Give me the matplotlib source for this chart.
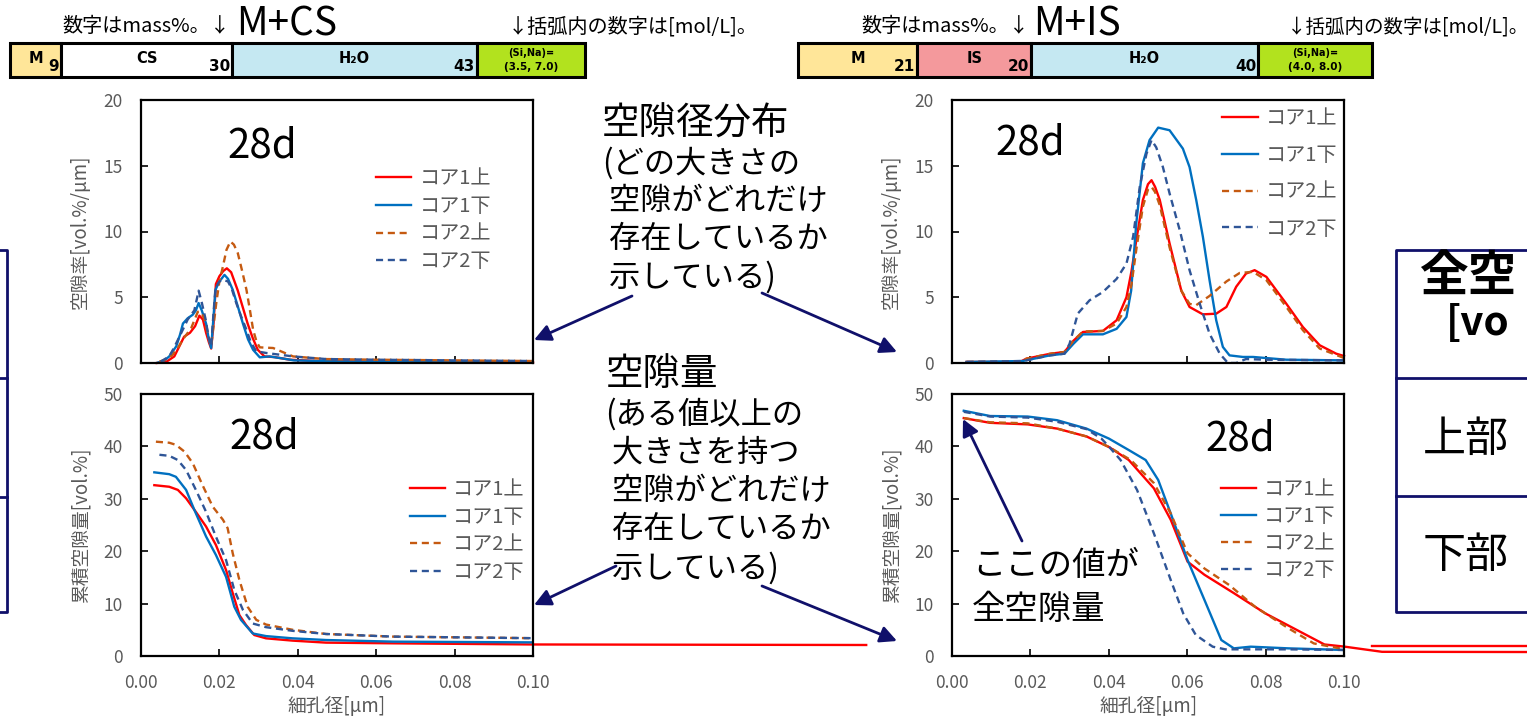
import numpy as np
import matplotlib.pyplot as plt

plt.rcParams['font.family'] = ['Noto Sans CJK JP', 'DejaVu Sans']

W, H = 1527, 720

# ---- series labels / styles ----
labels = ['コア1上', 'コア1下', 'コア2上', 'コア2下']
colors = ['#FF0000', '#0070C0', '#C55A11', '#2F5597']
styles = ['-', '-', (0, (3, 2)), (0, (3, 2))]

# ---- M+CS : pore size distribution [vol.%/um] ----
cs_psd_1u_x = [0.004, 0.0065, 0.0085, 0.0100, 0.0110, 0.0125, 0.0138, 0.0149, 0.0158, 0.0166, 0.0173, 0.0179,
               0.0185, 0.0191, 0.0200, 0.0210, 0.0219, 0.0230, 0.0247, 0.0260, 0.0272, 0.0285, 0.0298, 0.0315,
               0.0340, 0.0380, 0.0450, 0.0600, 0.0800, 0.1000]
cs_psd_1u_y = [0.0, 0.1, 0.5, 1.4, 2.0, 2.3, 2.8, 3.6, 3.3, 2.3, 1.6, 1.1, 3.0, 6.0, 6.6, 7.0, 7.2, 6.9, 5.5, 4.2,
               3.0, 1.9, 1.0, 0.5, 0.45, 0.25, 0.15, 0.1, 0.08, 0.05]
cs_psd_1d_x = [0.004, 0.006, 0.0072, 0.009, 0.0100, 0.0107, 0.0119, 0.0132, 0.0140, 0.0147, 0.0155, 0.0166, 0.0173,
               0.0179, 0.0185, 0.0190, 0.0200, 0.0213, 0.0222, 0.0234, 0.0247, 0.0260, 0.0273, 0.0286, 0.0303,
               0.0328, 0.0360, 0.0390, 0.0500, 0.0700, 0.1000]
cs_psd_1d_y = [0.0, 0.2, 0.5, 1.27, 2.2, 3.0, 3.4, 3.67, 4.0, 4.56, 4.0, 3.0, 1.8, 1.14, 3.5, 5.57, 6.2, 6.7, 6.4,
               5.57, 4.3, 3.0, 1.8, 1.0, 0.43, 0.5, 0.35, 0.2, 0.12, 0.08, 0.05]
cs_psd_2u_x = [0.0047, 0.0065, 0.0080, 0.0095, 0.0107, 0.0128, 0.0145, 0.0155, 0.0162, 0.0172, 0.0179, 0.0185,
               0.0192, 0.0200, 0.0209, 0.0218, 0.0228, 0.0237, 0.0247, 0.0258, 0.0269, 0.0278, 0.0286, 0.0295,
               0.0303, 0.0337, 0.0388, 0.0470, 0.0600, 0.0800, 0.1000]
cs_psd_2u_y = [0.1, 0.3, 0.6, 1.2, 1.8, 2.65, 3.9, 3.8, 3.3, 2.0, 1.27, 2.8, 4.56, 6.2, 7.34, 8.6, 9.24, 9.0, 8.35,
               7.0, 5.57, 4.0, 2.53, 1.6, 1.19, 1.14, 0.5, 0.3, 0.25, 0.2, 0.15]
cs_psd_2d_x = [0.005, 0.0072, 0.0085, 0.0098, 0.0119, 0.0136, 0.0142, 0.0147, 0.0155, 0.0165, 0.0172, 0.0179,
               0.0185, 0.0190, 0.0200, 0.0209, 0.0222, 0.0232, 0.0243, 0.0256, 0.0269, 0.0280, 0.0294, 0.0320,
               0.0388, 0.0472, 0.0600, 0.0800, 0.1000]
cs_psd_2d_y = [0.1, 0.5, 1.2, 2.0, 3.3, 4.0, 4.8, 5.5, 4.6, 3.3, 2.0, 1.27, 3.8, 5.7, 6.2, 6.33, 6.2, 5.6, 4.56,
               3.5, 2.53, 1.6, 0.89, 0.76, 0.5, 0.3, 0.25, 0.2, 0.15]

# ---- M+IS : pore size distribution ----
is_psd_1u_x = [0.0037, 0.0088, 0.0173, 0.0190, 0.0250, 0.0287, 0.0310, 0.0334, 0.0360, 0.0385, 0.0420, 0.0445,
               0.0458, 0.0470, 0.0487, 0.0500, 0.0509, 0.0518, 0.0530, 0.0555, 0.0585, 0.0606, 0.0640, 0.0674,
               0.0700, 0.0725, 0.0750, 0.0772, 0.0802, 0.0853, 0.0895, 0.0938, 0.0980, 0.1000]
is_psd_1u_y = [0.08, 0.08, 0.08, 0.33, 0.7, 0.84, 1.7, 2.36, 2.4, 2.44, 3.25, 5.0, 7.0, 9.3, 12.4, 13.6, 13.9,
               13.4, 12.4, 9.1, 5.5, 4.26, 3.7, 3.75, 4.26, 5.8, 6.8, 7.06, 6.55, 4.5, 2.74, 1.35, 0.71, 0.53]
is_psd_1d_x = [0.0037, 0.0180, 0.0250, 0.0287, 0.0310, 0.0334, 0.0385, 0.0420, 0.0445, 0.0457, 0.0470, 0.0487,
               0.0504, 0.0526, 0.0555, 0.0589, 0.0606, 0.0623, 0.0640, 0.0657, 0.0674, 0.0691, 0.0708, 0.0742,
               0.0768, 0.0853, 0.1000]
is_psd_1d_y = [0.08, 0.15, 0.58, 0.71, 1.47, 2.18, 2.18, 2.6, 3.5, 5.5, 10.6, 15.2, 16.95, 17.9, 17.7, 16.3,
               14.9, 12.4, 9.6, 6.3, 3.25, 1.22, 0.58, 0.46, 0.46, 0.25, 0.2]
is_psd_2u_x = [0.0037, 0.0088, 0.0173, 0.0190, 0.0250, 0.0287, 0.0310, 0.0334, 0.0385, 0.0420, 0.0445, 0.0458,
               0.0470, 0.0487, 0.0500, 0.0509, 0.0518, 0.0530, 0.0555, 0.0585, 0.0606, 0.0623, 0.0657, 0.0700,
               0.0734, 0.0768, 0.0802, 0.0853, 0.0895, 0.0938, 0.1000]
is_psd_2u_y = [0.08, 0.08, 0.08, 0.33, 0.7, 0.84, 1.7, 2.4, 2.44, 3.0, 4.26, 6.0, 8.6, 11.9, 13.2, 13.4, 13.0,
               12.0, 8.8, 5.5, 4.5, 4.4, 5.1, 6.2, 6.85, 6.93, 6.3, 4.26, 2.5, 1.1, 0.38]
is_psd_2d_x = [0.0037, 0.0180, 0.0250, 0.0287, 0.0300, 0.0321, 0.0351, 0.0385, 0.0420, 0.0445, 0.0462, 0.0479,
               0.0496, 0.0509, 0.0521, 0.0538, 0.0555, 0.0581, 0.0606, 0.0632, 0.0657, 0.0683, 0.0704, 0.0725,
               0.0750, 0.0800, 0.1000]
is_psd_2d_y = [0.08, 0.15, 0.58, 0.71, 1.47, 3.76, 4.77, 5.4, 6.4, 7.56, 9.6, 13.4, 15.9, 16.95, 16.4, 14.9,
               12.9, 10.1, 7.06, 4.5, 2.23, 0.71, 0.0, 0.0, 0.3, 0.25, 0.2]

# ---- M+CS : cumulative pore volume [vol.%] ----
cs_cum_1u_x = [0.0034, 0.0072, 0.0094, 0.0115, 0.0140, 0.0166, 0.0191, 0.0217, 0.0234, 0.0251, 0.0268, 0.0289,
               0.0319, 0.0387, 0.0472, 0.0643, 0.1000, 0.1850]
cs_cum_1u_y = [32.6, 32.3, 31.7, 30.1, 27.5, 24.7, 21.2, 16.4, 12.0, 7.8, 5.9, 4.0, 3.37, 2.93, 2.55, 2.42, 2.2, 2.1]
cs_cum_1d_x = [0.0034, 0.0072, 0.0089, 0.0115, 0.0136, 0.0166, 0.0191, 0.0217, 0.0238, 0.0255, 0.0285, 0.0319,
               0.0387, 0.0472, 0.0643, 0.1000]
cs_cum_1d_y = [35.05, 34.7, 34.2, 31.7, 27.9, 22.8, 19.3, 15.1, 9.4, 6.9, 4.3, 3.8, 3.37, 3.05, 2.74, 2.6]
cs_cum_2u_x = [0.0038, 0.0072, 0.0089, 0.0111, 0.0132, 0.0157, 0.0183, 0.0209, 0.0221, 0.0234, 0.0251, 0.0272,
               0.0294, 0.0319, 0.0387, 0.0472, 0.0643, 0.1000]
cs_cum_2u_y = [40.9, 40.7, 40.3, 39.0, 36.8, 32.6, 28.5, 26.0, 24.4, 19.6, 14.5, 9.4, 6.9, 6.0, 5.0, 4.2, 3.7, 3.4]
cs_cum_2d_x = [0.0047, 0.0072, 0.0094, 0.0115, 0.0140, 0.0166, 0.0191, 0.0217, 0.0238, 0.0260, 0.0285, 0.0319,
               0.0387, 0.0472, 0.0643, 0.1000]
cs_cum_2d_y = [38.4, 38.2, 37.4, 35.5, 31.7, 27.5, 22.8, 18.3, 12.6, 8.8, 6.2, 5.5, 4.8, 4.2, 3.7, 3.4]

# ---- M+IS : cumulative pore volume ----
is_cum_1u_x = [0.003, 0.0097, 0.0193, 0.0268, 0.0343, 0.0400, 0.0451, 0.0515, 0.0558, 0.0601, 0.0644, 0.0719,
               0.0800, 0.0950, 0.1000, 0.1097, 0.1467]
is_cum_1u_y = [45.4, 44.5, 44.2, 43.4, 41.9, 39.9, 37.4, 32.0, 26.0, 18.0, 15.5, 12.0, 8.1, 2.2, 1.8, 0.8, 0.76]
is_cum_1d_x = [0.003, 0.0097, 0.0193, 0.0268, 0.0343, 0.0400, 0.0451, 0.0494, 0.0526, 0.0558, 0.0601, 0.0644,
               0.0687, 0.0719, 0.0762, 0.0858, 0.1000]
is_cum_1d_y = [46.8, 45.8, 45.7, 45.0, 43.4, 41.5, 39.3, 37.4, 33.6, 27.2, 18.3, 10.7, 3.05, 1.46, 1.78, 1.46, 1.15]
is_cum_2u_x = [0.003, 0.0097, 0.0193, 0.0268, 0.0343, 0.0400, 0.0456, 0.0515, 0.0558, 0.0601, 0.0644, 0.0708,
               0.0773, 0.0858, 0.0923, 0.1000]
is_cum_2u_y = [45.4, 44.6, 44.4, 43.4, 41.9, 39.9, 37.4, 33.0, 27.2, 19.6, 16.7, 13.5, 9.4, 5.3, 2.4, 1.3]
is_cum_2d_x = [0.003, 0.0097, 0.0193, 0.0268, 0.0343, 0.0381, 0.0400, 0.0430, 0.0472, 0.0515, 0.0558, 0.0590,
               0.0622, 0.0665, 0.0697, 0.0858, 0.1000]
is_cum_2d_y = [46.6, 45.7, 45.5, 44.7, 43.3, 41.5, 40.0, 37.4, 31.7, 23.4, 14.5, 8.1, 4.0, 1.78, 1.27, 1.27, 1.15]
# stray red segment beyond the M+IS cumulative chart
is_cum_extra_x = [0.1072, 0.1467]
is_cum_extra_y = [1.9, 1.9]

# ---- composition bars (mass%) ----
cs_parts = ['M', 'CS', 'H₂O']
cs_mass = [9, 30, 43]
cs_siNa = '(3.5, 7.0)'
is_parts = ['M', 'IS', 'H₂O']
is_mass = [21, 20, 40]
is_siNa = '(4.0, 8.0)'
cs_bar_colors = ['#FFE699', '#FFFFFF', '#C5E8F2']
is_bar_colors = ['#FFE699', '#F4999C', '#C5E8F2']
green = '#B2E21E'

# ---- notes ----
psd_title = '空隙径分布'
psd_note = ['(どの大きさの', ' 空隙がどれだけ', ' 存在しているか', ' 示している)']
cum_title = '空隙量'
cum_note = ['(ある値以上の', ' 大きさを持つ', ' 空隙がどれだけ', ' 存在しているか', ' 示している)']
total_note = ['ここの値が', '全空隙量']
table_head = ['全空', '[vo']
table_rows = ['上部', '下部']

navy = '#10106A'
gray = '#595959'

fig = plt.figure(figsize=(W / 100, H / 100), dpi=100)


def add_ax(l, t, r, b):
    return fig.add_axes([l / W, 1 - b / H, (r - l) / W, (b - t) / H])


def style_chart(ax, ymax, ystep, ylabel, show_x):
    ax.set_xlim(0, 0.1)
    ax.set_ylim(0, ymax)
    ax.set_xticks(np.arange(0, 0.1001, 0.02))
    ax.set_yticks(np.arange(0, ymax + 0.1, ystep))
    for s in ax.spines.values():
        s.set_linewidth(1.6)
        s.set_color('black')
    ax.tick_params(direction='in', length=5, width=1.2, colors='black', labelcolor=gray, labelsize=12.5, pad=13)
    if show_x:
        ax.set_xticklabels(['%.2f' % v for v in ax.get_xticks()])
        ax.set_xlabel('細孔径[μm]', color=gray, fontsize=13.5, labelpad=3)
    else:
        ax.set_xticklabels([])
    ax.set_ylabel(ylabel, color=gray, fontsize=13.5, labelpad=9)


def draw_series(ax, xs, ys, leg_anchor, spacing):
    for x, y, lab, c, ls in zip(xs, ys, labels, colors, styles):
        ax.plot(x, y, color=c, linestyle=ls, linewidth=1.7, label=lab, clip_on=(lab != 'コア1上'))
    ax.legend(loc='upper left', bbox_to_anchor=leg_anchor, frameon=False, fontsize=14.5, labelcolor=gray,
              handlelength=1.75, handletextpad=0.4, borderpad=0, borderaxespad=0, labelspacing=spacing)


ax1 = add_ax(141, 100, 533, 363)
draw_series(ax1, [cs_psd_1u_x, cs_psd_1d_x, cs_psd_2u_x, cs_psd_2d_x],
            [cs_psd_1u_y, cs_psd_1d_y, cs_psd_2u_y, cs_psd_2d_y], (0.6, 0.74), 0.33)
style_chart(ax1, 20, 5, '空隙率[vol.%/μm]', False)
ax1.text(0.31, 0.825, '28d', transform=ax1.transAxes, fontsize=29, ha='center', va='center')

ax2 = add_ax(952, 100, 1344, 363)
draw_series(ax2, [is_psd_1u_x, is_psd_1d_x, is_psd_2u_x, is_psd_2d_x],
            [is_psd_1u_y, is_psd_1d_y, is_psd_2u_y, is_psd_2d_y], (0.69, 0.968), 0.78)
style_chart(ax2, 20, 5, '空隙率[vol.%/μm]', False)
ax2.text(0.2, 0.835, '28d', transform=ax2.transAxes, fontsize=29, ha='center', va='center')

ax3 = add_ax(141, 394, 533, 656)
draw_series(ax3, [cs_cum_1u_x, cs_cum_1d_x, cs_cum_2u_x, cs_cum_2d_x],
            [cs_cum_1u_y, cs_cum_1d_y, cs_cum_2u_y, cs_cum_2d_y], (0.685, 0.675), 0.33)
style_chart(ax3, 50, 10, '累積空隙量[vol.%]', True)
ax3.text(0.315, 0.835, '28d', transform=ax3.transAxes, fontsize=29, ha='center', va='center')

ax4 = add_ax(952, 394, 1344, 656)
draw_series(ax4, [is_cum_1u_x, is_cum_1d_x, is_cum_2u_x, is_cum_2d_x],
            [is_cum_1u_y, is_cum_1d_y, is_cum_2u_y, is_cum_2d_y], (0.685, 0.675), 0.3)
ax4.plot(is_cum_extra_x, is_cum_extra_y, color='#FF0000', linewidth=1.7, clip_on=False)
style_chart(ax4, 50, 10, '累積空隙量[vol.%]', True)
ax4.text(0.735, 0.83, '28d', transform=ax4.transAxes, fontsize=29, ha='center', va='center')


# ---- composition bars ----
def comp_bar(l, r, parts, mass, cols, siNa):
    ax = add_ax(l, 43, r, 77)
    widths = list(mass) + [101 - sum(mass)]
    lefts = np.concatenate([[0], np.cumsum(widths)[:-1]])
    ax.barh(0, widths, left=lefts, height=1.0, color=list(cols) + [green], edgecolor='black',
            linewidth=2.2, clip_on=False)
    ax.set_xlim(0, 101)
    ax.set_ylim(-0.5, 0.5)
    ax.axis('off')
    for name, m, lf, w in zip(parts, mass, lefts, widths):
        ax.text(lf + w / 2, 0.03, name, ha='center', va='center', fontsize=10.5,
                fontweight='bold', family='DejaVu Sans')
        ax.text(lf + w - 0.4, -0.18, str(m), ha='right', va='center', fontsize=11,
                fontweight='bold', family='DejaVu Sans')
    gx = lefts[-1] + widths[-1] / 2
    ax.text(gx, 0.2, '(Si,Na)=', ha='center', va='center', fontsize=7, fontweight='bold', family='DejaVu Sans')
    ax.text(gx, -0.22, siNa, ha='center', va='center', fontsize=7.5, fontweight='bold', family='DejaVu Sans')


comp_bar(10, 585, cs_parts, cs_mass, cs_bar_colors, cs_siNa)
comp_bar(798, 1372, is_parts, is_mass, is_bar_colors, is_siNa)

# ---- overlay for notes, arrows, tables ----
ov = fig.add_axes([0, 0, 1, 1])
ov.set_xlim(0, W)
ov.set_ylim(H, 0)
ov.axis('off')

ov.text(62, 27, '数字はmass%。↓', fontsize=14.5, va='center')
ov.text(236, 24, 'M+CS', fontsize=28, va='center')
ov.text(508, 27, '↓括弧内の数字は[mol/L]。', fontsize=14.5, va='center')
ov.text(861, 27, '数字はmass%。↓', fontsize=14.5, va='center')
ov.text(1033, 24, 'M+IS', fontsize=28, va='center')
ov.text(1287, 27, '↓括弧内の数字は[mol/L]。', fontsize=14, va='center')

ov.text(602, 124, psd_title, fontsize=27, va='center')
for i, line in enumerate(psd_note):
    ov.text(602, 163 + i * 38, line, fontsize=22.5, va='center')
ov.text(606, 374, cum_title, fontsize=27, va='center')
for i, line in enumerate(cum_note):
    ov.text(605, 414 + i * 38.5, line, fontsize=22.5, va='center')
for i, line in enumerate(total_note):
    ov.text(972, 566 + i * 44, line, fontsize=24, va='center')

arrows = [((632, 296), (534, 340)), ((762, 293), (897, 352)),
          ((616, 566), (534, 605)), ((762, 586), (897, 641)),
          ((1022, 541), (963, 419))]
for (x0, y0), (x1, y1) in arrows:
    ov.annotate('', xy=(x1, y1), xytext=(x0, y0),
                arrowprops=dict(arrowstyle='-|>,head_length=1.0,head_width=0.5', color=navy, lw=2.0,
                                shrinkA=0, shrinkB=0))

# cut-off tables at the edges
ov.plot([-50, 7, 7, -50], [250, 250, 612, 612], color=navy, lw=2, clip_on=False)
for yy in (378, 497):
    ov.plot([-50, 7], [yy, yy], color=navy, lw=2, clip_on=False)
ov.plot([1600, 1396, 1396, 1600], [250, 250, 612, 612], color=navy, lw=2, clip_on=False)
for yy in (378, 496):
    ov.plot([1396, 1600], [yy, yy], color=navy, lw=2, clip_on=False)
ov.text(1419, 276, table_head[0], fontsize=35, fontweight='bold', va='center')
ov.text(1446, 323, table_head[1], fontsize=29, fontweight='bold', va='center')
for i, r in enumerate(table_rows):
    ov.text(1423, 440 + i * 116, r, fontsize=31, va='center')

fig.savefig('out.png', dpi=100)
